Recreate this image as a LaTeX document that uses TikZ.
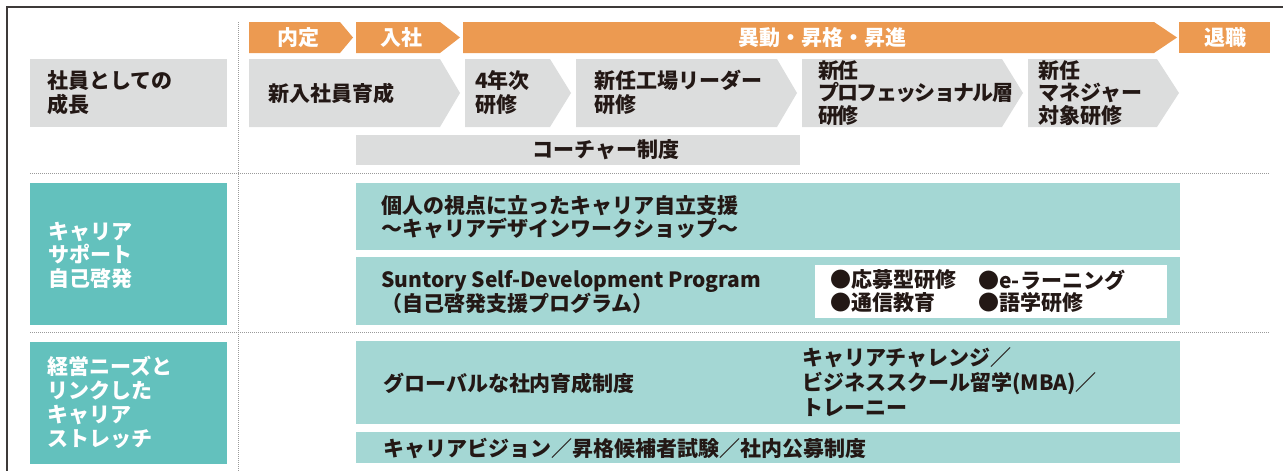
\documentclass[tikz,border=0pt]{standalone}
\usepackage{fontspec}
\setmainfont{Noto Sans CJK JP}
\definecolor{orng}{HTML}{EC9A51}
\definecolor{gry}{HTML}{DCDDDD}
\definecolor{teal1}{HTML}{63C1BD}
\definecolor{teal2}{HTML}{A4D7D4}
\definecolor{ink}{HTML}{231815}
\definecolor{frm}{HTML}{3E3A39}
\definecolor{dotg}{HTML}{9A9A9A}
\tikzset{
  txt/.style={font=\fontsize{21}{23.5}\selectfont\bfseries, text=ink, align=left, inner sep=0pt, anchor=west},
  wtxt/.style={txt, text=white},
  ctxt/.style={txt, text=white, anchor=center},
  dots/.style={draw=dotg, line width=1pt, dash pattern=on 1pt off 1pt},
}
\begin{document}
\begin{tikzpicture}[x=1pt,y=-1pt]
\useasboundingbox (0,0) rectangle (1283,471);
% frame
\draw[frm, line width=1.5pt] (7,471) -- (7,7) -- (1283,7);
% dotted separators
\coordinate (v1) at (238,22); \coordinate (v2) at (238,471);
\coordinate (h1a) at (30,173); \coordinate (h1b) at (1270,173);
\coordinate (h2a) at (30,332); \coordinate (h2b) at (1270,332);
\draw[dots] (v1) -- (v2);
\draw[dots] (h1a) -- (h1b);
\draw[dots] (h2a) -- (h2b);
% orange timeline
\fill[orng] (249,22) -- (340,22) -- (353,37.5) -- (340,53) -- (249,53) -- cycle;
\fill[orng] (356,22) -- (440,22) -- (460,37.5) -- (440,53) -- (356,53) -- cycle;
\fill[orng] (463,22) -- (1154,22) -- (1177,37.5) -- (1154,53) -- (463,53) -- cycle;
\fill[orng] (1179,22) rectangle (1270,53);
\node[ctxt] (naitei) at (298,38) {内定};
\node[ctxt] (nyusha) at (401,38) {入社};
\node[ctxt] (idou) at (822,38) {異動・昇格・昇進};
\node[ctxt] (taishoku) at (1225,38) {退職};
% row 1
\fill[gry] (30,59) rectangle (227,127);
\node[txt] (seicho) at (47,92.5) {社員としての\\成長};
\fill[gry] (249,59) -- (440,59) -- (460,93) -- (440,127) -- (249,127) -- cycle;
\fill[gry] (465,59) -- (550,59) -- (571,93) -- (550,127) -- (465,127) -- cycle;
\fill[gry] (576,59) -- (777,59) -- (797,93) -- (777,127) -- (576,127) -- cycle;
\fill[gry] (802,59) -- (1002,59) -- (1023,93) -- (1002,127) -- (802,127) -- cycle;
\fill[gry] (1028,59) -- (1157,59) -- (1179,93) -- (1157,127) -- (1028,127) -- cycle;
\node[txt] (shinnyu) at (268,93) {新入社員育成};
\node[txt] (yonen) at (475,92.5) {4年次\\研修};
\node[txt] (kojo) at (594,92.5) {新任工場リーダー\\研修};
\node[txt, font=\fontsize{21}{22.5}\selectfont\bfseries\addfontfeatures{LetterSpace=-8}] (pro) at (818,93) {新任\\プロフェッショナル層\\研修};
\node[txt, font=\fontsize{21}{22.5}\selectfont\bfseries] (mgr) at (1038,93) {新任\\マネジャー\\対象研修};
\fill[gry] (356,135) rectangle (800,165);
\node[txt] (coach) at (532,150) {コーチャー制度};
% row 2
\fill[teal1] (30,183) rectangle (227,325);
\node[wtxt] (support) at (48,255) {キャリア\\サポート\\自己啓発};
\fill[teal2] (356,183) rectangle (1180,250);
\node[txt] (kojin) at (381,217) {個人の視点に立ったキャリア自立支援\\～キャリアデザインワークショップ～};
\fill[teal2] (356,257) rectangle (1180,325);
\node[txt, font=\fontsize{21}{22.5}\selectfont\bfseries] (sdp) at (381,292) {Suntory Self-Development Program\\（自己啓発支援プログラム）};
\fill[white] (815,265) rectangle (1167,318);
\node[txt] (b1) at (830,280) {●応募型研修};
\node[txt] (b2) at (978,280) {●e-ラーニング};
\node[txt] (b3) at (830,303) {●通信教育};
\node[txt] (b4) at (978,303) {●語学研修};
% row 3
\fill[teal1] (30,342) rectangle (227,464);
\node[wtxt, font=\fontsize{21}{24}\selectfont\bfseries] (stretch) at (47,402) {経営ニーズと\\リンクした\\キャリア\\ストレッチ};
\fill[teal2] (356,341) rectangle (1180,424);
\node[txt] (global) at (383,383) {グローバルな社内育成制度};
\node[txt, font=\fontsize{21}{25}\selectfont\bfseries] (challenge) at (802,382) {キャリアチャレンジ／\\ビジネススクール留学(MBA)／\\トレーニー};
\fill[teal2] (356,432) rectangle (1180,463);
\node[txt] (vision) at (383,448) {キャリアビジョン／昇格候補者試験／社内公募制度};
\end{tikzpicture}
\end{document}
